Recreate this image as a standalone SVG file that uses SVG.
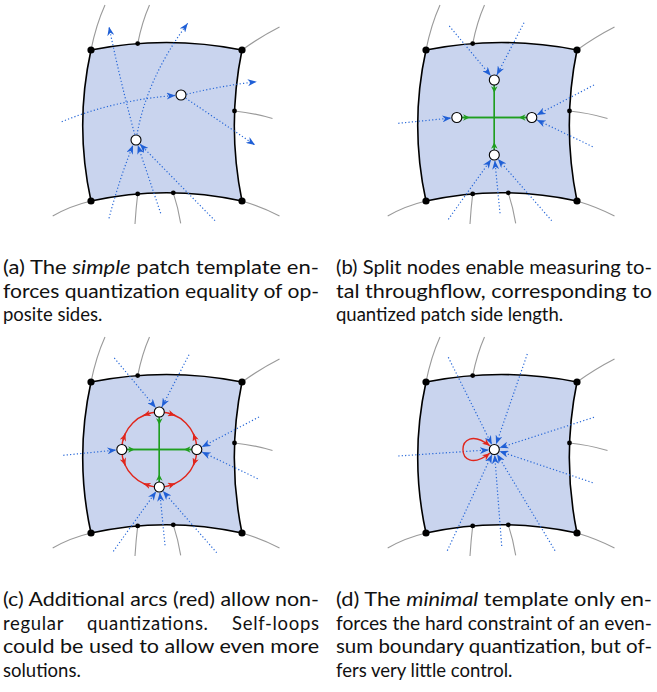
<svg xmlns="http://www.w3.org/2000/svg" xmlns:xlink="http://www.w3.org/1999/xlink" width="657" height="692" viewBox="0 0 657 692">
<style>
.patch{fill:#c9d4ee;stroke:#000;stroke-width:1.6}
.gray{fill:none;stroke:#9a9a9a;stroke-width:1.1}
.blue{fill:none;stroke:#2667d8;stroke-width:1.2;stroke-dasharray:1.2 2.2;marker-end:url(#ab)}
.green{fill:none;stroke:#1f9e1f;stroke-width:1.4}
.garm{fill:none;stroke:#1f9e1f;stroke-width:1.4;marker-start:url(#ag)}
.red{fill:none;stroke:#e0261c;stroke-width:1.4}
.rarr{fill:none;stroke:#e0261c;stroke-width:1.4;marker-end:url(#ar)}
.node{fill:#fff;stroke:#000;stroke-width:1.1}
.cap{font-family:Lato,"Open Sans",sans-serif;font-size:18.5px;fill:#111}
</style>
<defs>
<marker id="ab" viewBox="0 0 10 10" refX="10" refY="5" markerWidth="9" markerHeight="7" markerUnits="userSpaceOnUse" orient="auto" preserveAspectRatio="none"><path d="M0,0 L10,5 L0,10 L3,5 z" fill="#1f5fd6"/></marker>
<marker id="ag" viewBox="0 0 10 10" refX="-2" refY="5" markerWidth="6.5" markerHeight="6.5" markerUnits="userSpaceOnUse" orient="auto" preserveAspectRatio="none"><path d="M0,0 L10,5 L0,10 L3,5 z" fill="#1f9e1f"/></marker>
<marker id="ar" viewBox="0 0 10 10" refX="10" refY="5" markerWidth="7.5" markerHeight="6.5" markerUnits="userSpaceOnUse" orient="auto" preserveAspectRatio="none"><path d="M0,0 L10,5 L0,10 L3,5 z" fill="#e0261c"/></marker>
<marker id="arl" viewBox="0 0 10 10" refX="10" refY="5" markerWidth="7.5" markerHeight="6.5" markerUnits="userSpaceOnUse" orient="auto-start-reverse" preserveAspectRatio="none"><path d="M0,0 L10,5 L0,10 L3,5 z" fill="#e0261c"/></marker>
<g id="base">
<path class="gray" d="M91,50 Q96,25 105,5"/>
<path class="gray" d="M137.7,43.6 Q142,22 149.5,5"/>
<path class="gray" d="M242,50 Q260,37 279.5,27"/>
<path class="gray" d="M234.5,111 Q254,113 272.5,118.5"/>
<path class="gray" d="M242,201 Q262,207 279.5,216"/>
<path class="gray" d="M173.3,192.8 Q178,207 180.7,223.3"/>
<path class="gray" d="M137.7,193.9 Q136,208 135,224"/>
<path class="gray" d="M91,201 Q70,206 52.7,216"/>
<path class="patch" d="M91,50 Q166.5,35 242,50 Q226.6,125.5 242,201 Q166.5,184.4 91,201 Q74.4,125.5 91,50 Z"/>
<circle cx="91" cy="50" r="3.6"/>
<circle cx="242" cy="50" r="3.6"/>
<circle cx="242" cy="201" r="3.6"/>
<circle cx="91" cy="201" r="3.6"/>
<circle cx="137.7" cy="43.6" r="2.4"/>
<circle cx="234.5" cy="111" r="2.4"/>
<circle cx="137.7" cy="193.9" r="2.4"/>
<circle cx="173.3" cy="192.8" r="2.4"/>
</g>
<g id="splitblue">
<path class="blue" d="M114.3,26 L155.8,75.8"/>
<path class="blue" d="M189,22.7 L161.8,75.1"/>
<path class="blue" d="M63.3,123.3 L116.3,118"/>
<path class="blue" d="M259,85 L201.7,115"/>
<path class="blue" d="M257.7,146.7 L201.8,119.9"/>
<path class="blue" d="M113.3,219.3 L156.1,159.5"/>
<path class="blue" d="M165,213.3 L159.8,160.5"/>
<path class="blue" d="M216.7,220.7 L162.9,159.1"/>
</g>
<g id="cross">
<path class="green" d="M159.3,80 L159.3,155 M121.8,117.5 L196.8,117.5"/>
<path class="garm" d="M159.3,85 L159.3,117.5"/>
<path class="garm" d="M159.3,150 L159.3,117.5"/>
<path class="garm" d="M126.8,117.5 L159.3,117.5"/>
<path class="garm" d="M191.8,117.5 L159.3,117.5"/>
</g>
<g id="splitnodes">
<circle class="node" cx="159.3" cy="80" r="5"/>
<circle class="node" cx="121.8" cy="117.5" r="5"/>
<circle class="node" cx="196.8" cy="117.5" r="5"/>
<circle class="node" cx="159.3" cy="155" r="5"/>
</g>
</defs>

<g id="panel-a">
<use xlink:href="#base"/>
<g id="connectors-a">
<path class="blue" d="M61.7,121.7 Q115,100 175.5,95.4"/>
<path class="blue" d="M186.4,94.3 Q220,86 256.7,81.7"/>
<path class="blue" d="M185.6,98.1 L255,145"/>
<path class="blue" d="M134.8,134.7 Q120,80 109,26.7"/>
<path class="blue" d="M137,134.6 Q147,78 187.7,23.3"/>
<path class="blue" d="M109,218.3 Q119,180 133,145.2"/>
<path class="blue" d="M160.7,213.3 L137.8,145.2"/>
<path class="blue" d="M215,220.7 L139.9,144"/>
</g>
<g id="node-a1"><circle class="node" cx="181" cy="95" r="5"/></g>
<g id="node-a2"><circle class="node" cx="136" cy="140" r="5"/></g>
</g>

<g id="panel-b" transform="translate(335,0)">
<use xlink:href="#base"/>
<g id="connectors-b">
<use xlink:href="#splitblue"/>
<use xlink:href="#cross"/>
</g>
<g id="nodes-b"><use xlink:href="#splitnodes"/></g>
</g>

<g id="panel-c" transform="translate(0,332)">
<use xlink:href="#base"/>
<g id="connectors-c">
<use xlink:href="#splitblue"/>
<circle class="red" cx="159.3" cy="117.5" r="37.5"/>
<path class="rarr" d="M150.39,81.08 L143.33,83.57"/>
<path class="rarr" d="M168.21,81.08 L175.27,83.57"/>
<path class="rarr" d="M195.72,108.59 L193.23,101.53"/>
<path class="rarr" d="M195.72,126.41 L193.23,133.47"/>
<path class="rarr" d="M168.21,153.92 L175.27,151.43"/>
<path class="rarr" d="M150.39,153.92 L143.33,151.43"/>
<path class="rarr" d="M122.88,126.41 L125.37,133.47"/>
<path class="rarr" d="M122.88,108.59 L125.37,101.53"/>
<use xlink:href="#cross"/>
</g>
<g id="nodes-c"><use xlink:href="#splitnodes"/></g>
</g>

<g id="panel-d" transform="translate(335,332)">
<use xlink:href="#base"/>
<g id="connectors-d">
<path class="blue" d="M113.3,25.3 L156.8,112.6"/>
<path class="blue" d="M192.3,22 L161.1,112.3"/>
<path class="blue" d="M63.3,124 L153.8,117.9"/>
<path class="blue" d="M259,85.3 L164.5,115.8"/>
<path class="blue" d="M257.7,150.7 L164.5,119.3"/>
<path class="blue" d="M112.3,218.7 L157,122.5"/>
<path class="blue" d="M166.7,214 L159.7,123"/>
<path class="blue" d="M220,218.7 L162.1,122.2"/>
<path d="M154.8,113.8 C119,86 119,149 154.8,121.2" fill="none" stroke="#e0261c" stroke-width="1.4" marker-start="url(#arl)" marker-end="url(#arl)"/>
</g>
<g id="node-d"><circle class="node" cx="159.3" cy="117.5" r="5"/></g>
</g>

<g id="captions" class="cap">
<text x="3" y="274" textLength="316" lengthAdjust="spacingAndGlyphs">(a) The <tspan font-style="italic">simple</tspan> patch template en-</text>
<text x="3" y="297.5" textLength="316" lengthAdjust="spacingAndGlyphs">forces quantization equality of op-</text>
<text x="3" y="321">posite sides.</text>
<text x="336" y="274" textLength="316" lengthAdjust="spacingAndGlyphs">(b) Split nodes enable measuring to-</text>
<text x="336" y="297.5" textLength="316" lengthAdjust="spacingAndGlyphs">tal throughflow, corresponding to</text>
<text x="336" y="321">quantized patch side length.</text>
<text x="3" y="606" textLength="316" lengthAdjust="spacingAndGlyphs">(c) Additional arcs (red) allow non-</text>
<text x="3" y="629.5" textLength="316" lengthAdjust="spacing" word-spacing="18">regular quantizations. Self-loops</text>
<text x="3" y="653" textLength="316" lengthAdjust="spacingAndGlyphs">could be used to allow even more</text>
<text x="3" y="676.5">solutions.</text>
<text x="336" y="606" textLength="316" lengthAdjust="spacingAndGlyphs">(d) The <tspan font-style="italic">minimal</tspan> template only en-</text>
<text x="336" y="629.5" textLength="316" lengthAdjust="spacingAndGlyphs">forces the hard constraint of an even-</text>
<text x="336" y="653" textLength="316" lengthAdjust="spacingAndGlyphs">sum boundary quantization, but of-</text>
<text x="336" y="676.5">fers very little control.</text>
</g>
</svg>
